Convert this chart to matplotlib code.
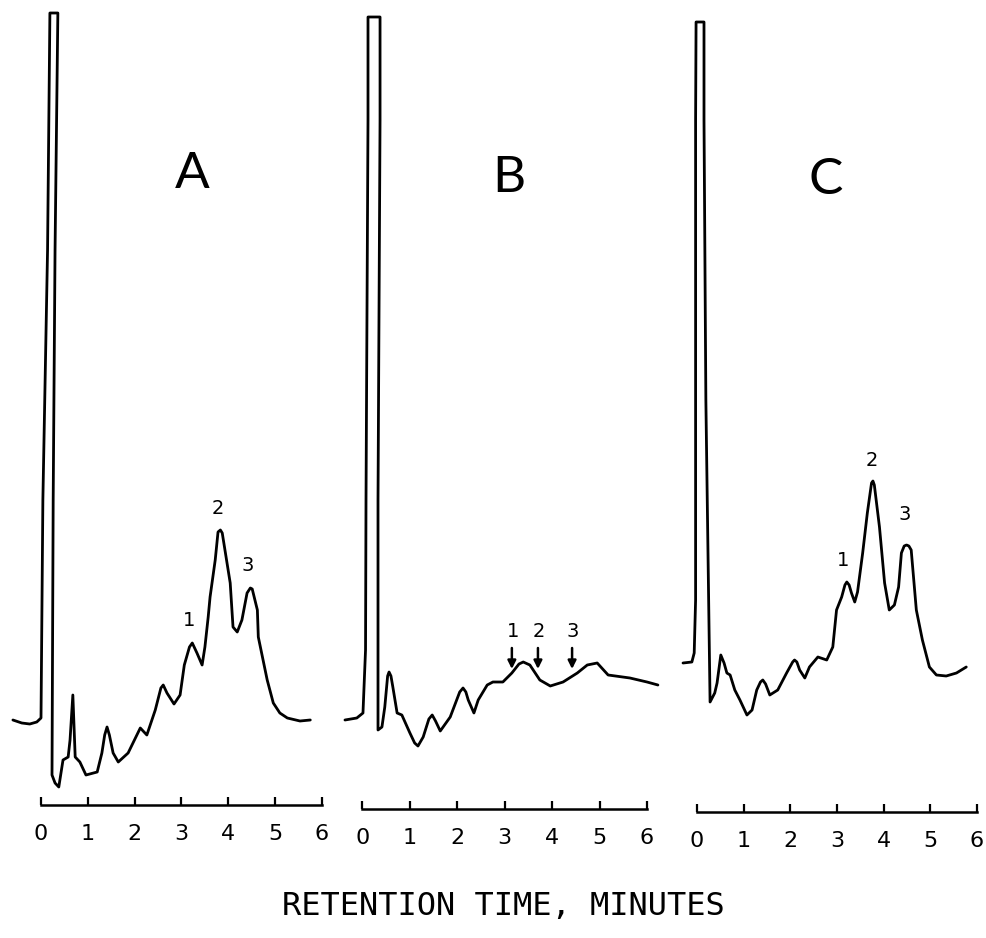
import matplotlib
matplotlib.use("Agg")
import matplotlib.pyplot as plt

# ---- data (time in minutes, detector response in arbitrary units) ----
time_A = [-0.60, -0.41, -0.24, -0.09, 0.0, 0.04, 0.14, 0.19, 0.36, 0.30, 0.26, 0.235,
          0.30, 0.38, 0.47, 0.58, 0.62, 0.68, 0.73, 0.83, 0.96, 1.20, 1.30, 1.36, 1.41,
          1.46, 1.54, 1.65, 1.86, 2.12, 2.26, 2.44, 2.56, 2.61, 2.69, 2.84, 2.97, 3.06,
          3.17, 3.23, 3.33, 3.44, 3.50, 3.57, 3.61, 3.72, 3.78, 3.83, 3.87, 4.04, 4.10,
          4.19, 4.29, 4.40, 4.47, 4.51, 4.62, 4.64, 4.83, 4.96, 5.10, 5.26, 5.53, 5.75]
resp_A = [0.85, 0.82, 0.81, 0.83, 0.87, 3.05, 5.55, 7.92, 7.92, 5.55, 3.05, 0.30,
          0.22, 0.18, 0.45, 0.48, 0.65, 1.10, 0.48, 0.43, 0.30, 0.33, 0.52, 0.70, 0.78,
          0.70, 0.52, 0.43, 0.52, 0.77, 0.70, 0.95, 1.17, 1.20, 1.12, 1.01, 1.10, 1.40,
          1.58, 1.62, 1.52, 1.40, 1.58, 1.88, 2.08, 2.45, 2.73, 2.75, 2.72, 2.22, 1.78,
          1.73, 1.85, 2.12, 2.17, 2.16, 1.95, 1.68, 1.25, 1.02, 0.92, 0.87, 0.84, 0.85]

time_B = [-0.37, -0.12, 0.01, 0.064, 0.074, 0.116, 0.116, 0.37, 0.37, 0.327, 0.327,
          0.41, 0.47, 0.53, 0.56, 0.60, 0.64, 0.73, 0.83, 1.00, 1.10, 1.17, 1.28, 1.40,
          1.47, 1.54, 1.64, 1.85, 2.05, 2.12, 2.18, 2.23, 2.35, 2.44, 2.63, 2.75, 2.96,
          3.15, 3.30, 3.39, 3.53, 3.74, 3.96, 4.23, 4.53, 4.74, 4.95, 5.18, 5.64, 6.00,
          6.23]
resp_B = [0.89, 0.91, 0.96, 1.59, 3.09, 6.89, 7.92, 7.92, 6.89, 3.09, 0.79,
          0.82, 1.02, 1.33, 1.37, 1.33, 1.22, 0.96, 0.94, 0.76, 0.66, 0.63, 0.72, 0.90,
          0.94, 0.88, 0.78, 0.92, 1.17, 1.21, 1.17, 1.09, 0.96, 1.09, 1.24, 1.27, 1.27,
          1.36, 1.45, 1.47, 1.44, 1.29, 1.23, 1.27, 1.36, 1.44, 1.46, 1.34, 1.31, 1.27,
          1.24]

time_C = [-0.30, -0.11, -0.06, -0.03, -0.03, -0.03, -0.02, 0.15, 0.15, 0.19, 0.28,
          0.38, 0.43, 0.51, 0.58, 0.64, 0.71, 0.81, 0.92, 1.07, 1.18, 1.28, 1.36, 1.41,
          1.47, 1.56, 1.73, 1.92, 2.05, 2.09, 2.14, 2.20, 2.31, 2.41, 2.59, 2.78, 2.91,
          2.99, 3.10, 3.17, 3.21, 3.26, 3.31, 3.38, 3.44, 3.55, 3.65, 3.74, 3.77, 3.80,
          3.91, 4.02, 4.12, 4.23, 4.32, 4.38, 4.44, 4.49, 4.54, 4.59, 4.70, 4.83, 4.98,
          5.13, 5.34, 5.56, 5.77]
resp_C = [1.49, 1.50, 1.59, 2.12, 4.12, 6.92, 7.90, 7.90, 6.92, 4.12, 1.10,
          1.19, 1.29, 1.57, 1.49, 1.39, 1.37, 1.22, 1.12, 0.97, 1.02, 1.22, 1.30, 1.32,
          1.28, 1.17, 1.22, 1.39, 1.50, 1.52, 1.50, 1.42, 1.34, 1.45, 1.55, 1.52, 1.65,
          2.02, 2.15, 2.27, 2.30, 2.27, 2.19, 2.10, 2.20, 2.59, 2.99, 3.29, 3.31, 3.27,
          2.85, 2.29, 2.02, 2.07, 2.25, 2.59, 2.66, 2.67, 2.66, 2.62, 2.02, 1.72, 1.45,
          1.37, 1.36, 1.39, 1.45]

tick_values = [0, 1, 2, 3, 4, 5, 6]
tick_labels = ["0", "1", "2", "3", "4", "5", "6"]
panel_names = ["A", "B", "C"]

# peak numbers (label, time, response)
peak_labels_A = [("1", 3.16, 1.85), ("2", 3.78, 2.97), ("3", 4.42, 2.40)]
peak_labels_C = [("1", 3.12, 2.52), ("2", 3.74, 3.52), ("3", 4.44, 2.97)]
# arrows in B: label, time, tail response, head response
arrows_B = [("1", 3.15, 1.61, 1.40), ("2", 3.70, 1.61, 1.40), ("3", 4.42, 1.61, 1.40)]

title_pos = [(3.23, 6.31), (3.09, 6.31), (2.76, 6.32)]

TITLE_FONT = dict(family=["Lato", "DejaVu Sans"], fontweight="normal")

# ---- layout (figure pixels) ----
W, H = 987, 938
fig = plt.figure(figsize=(W / 100, H / 100), dpi=100)

panels = [
    (41.0, 322.0, 805.0, time_A, resp_A),
    (362.5, 647.0, 809.0, time_B, resp_B),
    (697.0, 977.0, 812.0, time_C, resp_C),
]

axes = []
for i, (x0, x6, yb, t, r) in enumerate(panels):
    ax = fig.add_axes([x0 / W, (H - yb) / H, (x6 - x0) / W, yb / H])
    ax.set_xlim(0, 6)
    ax.set_ylim(0, yb / 100.0)
    ax.plot(t, r, color="black", lw=2.0, clip_on=False,
            solid_joinstyle="round", solid_capstyle="round")
    for s in ("top", "left", "right"):
        ax.spines[s].set_visible(False)
    ax.spines["bottom"].set_linewidth(1.8)
    ax.set_yticks([])
    ax.set_xticks(tick_values)
    ax.set_xticklabels(tick_labels)
    ax.tick_params(axis="x", direction="in", length=5.5, width=1.6,
                   pad=14, labelsize=16)
    ax.patch.set_visible(False)
    tx, ty = title_pos[i]
    ax.text(tx, ty, panel_names[i], fontsize=37, ha="center", va="center",
            **TITLE_FONT)
    axes.append(ax)

for lab, t, r in peak_labels_A:
    axes[0].text(t, r, lab, fontsize=14, ha="center", va="center")
for lab, t, r in peak_labels_C:
    axes[2].text(t, r, lab, fontsize=14, ha="center", va="center")
for lab, t, r0, r1 in arrows_B:
    axes[1].annotate("", xy=(t, r1), xytext=(t, r0),
                     arrowprops=dict(arrowstyle="-|>", color="black", lw=1.8,
                                     mutation_scale=12, shrinkA=0, shrinkB=0))
    axes[1].text(t + 0.02, r0 + 0.17, lab, fontsize=14, ha="center", va="center")

fig.text(503 / W, 1 - 906 / H, "RETENTION TIME, MINUTES", family="DejaVu Sans Mono",
         fontsize=23, ha="center", va="center")

fig.savefig("out.png", dpi=100)
